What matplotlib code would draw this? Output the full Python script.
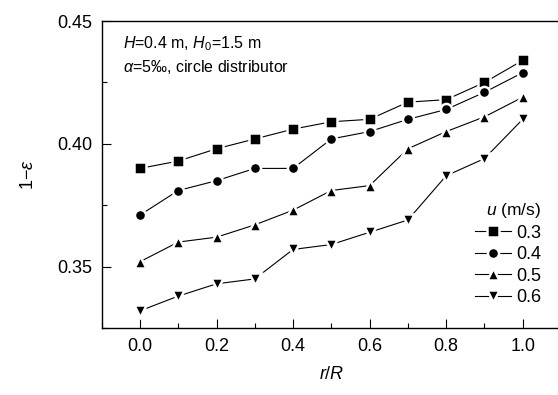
import matplotlib
matplotlib.use("Agg")
import matplotlib.pyplot as plt
from matplotlib.ticker import MultipleLocator, FormatStrFormatter

plt.rcParams['font.family'] = ['Liberation Sans', 'DejaVu Sans']
plt.rcParams['mathtext.fontset'] = 'custom'
plt.rcParams['mathtext.it'] = 'Liberation Sans:italic'
plt.rcParams['mathtext.rm'] = 'Liberation Sans'

# radial position r/R
r_R = [0.0, 0.1, 0.2, 0.3, 0.4, 0.5, 0.6, 0.7, 0.8, 0.9, 1.0]

# 1 - epsilon for each gas velocity
u_03 = [0.390, 0.393, 0.398, 0.402, 0.406, 0.409, 0.410, 0.417, 0.418, 0.425, 0.434]
u_04 = [0.371, 0.381, 0.385, 0.390, 0.390, 0.402, 0.405, 0.410, 0.414, 0.421, 0.429]
u_05 = [0.352, 0.360, 0.362, 0.367, 0.373, 0.381, 0.383, 0.398, 0.405, 0.411, 0.419]
u_06 = [0.332, 0.338, 0.343, 0.345, 0.357, 0.359, 0.364, 0.369, 0.387, 0.394, 0.410]

labels = ['0.3', '0.4', '0.5', '0.6']
markers = ['s', 'o', '^', 'v']

fig = plt.figure(figsize=(5.58, 3.95), dpi=100)
ax = fig.add_axes([0.1823, 0.1696, 0.823, 0.777])

for ys, lab, m in zip([u_03, u_04, u_05, u_06], labels, markers):
    ax.plot(r_R, ys, color='black', lw=0.8, marker=m, ms=8,
            markeredgecolor='white', markeredgewidth=1.8, label=lab)

ax.set_xlim(-0.1, 1.1)
ax.set_ylim(0.325, 0.45)
ax.xaxis.set_major_locator(MultipleLocator(0.2))
ax.xaxis.set_minor_locator(MultipleLocator(0.1))
ax.yaxis.set_major_locator(MultipleLocator(0.05))
ax.yaxis.set_minor_locator(MultipleLocator(0.025))
ax.tick_params(which='both', direction='in', labelsize=13, width=0.8)
ax.tick_params(which='major', length=6.5, pad=7)
ax.tick_params(which='minor', length=3.6)
ax.xaxis.set_major_formatter(FormatStrFormatter('%.1f'))
ax.yaxis.set_major_formatter(FormatStrFormatter('%.2f'))
for s in ax.spines.values():
    s.set_linewidth(1.0)

ax.set_xlabel(r'$\mathit{r}$/$\mathit{R}$', fontsize=13, labelpad=8)
ax.set_ylabel(r'1$-\mathit{\varepsilon}$', fontsize=13, labelpad=14)

ax.text(0.046, 0.925, r'$\mathit{H}$=0.4 m, $\mathit{H}_0$=1.5 m',
        transform=ax.transAxes, fontsize=11.5, va='center')
ax.text(0.046, 0.85, r'$\mathit{\alpha}$=5‰, circle distributor',
        transform=ax.transAxes, fontsize=11.5, va='center')

leg = ax.legend(title=r'$\mathit{u}$ (m/s)', loc='lower right',
                bbox_to_anchor=(0.985, 0.03), frameon=False, fontsize=13,
                title_fontsize=12.5, handlelength=2.0, handletextpad=0.3,
                labelspacing=0.25, borderpad=0.2)
leg._legend_box.align = 'right'

fig.savefig('out.png', dpi=100)
